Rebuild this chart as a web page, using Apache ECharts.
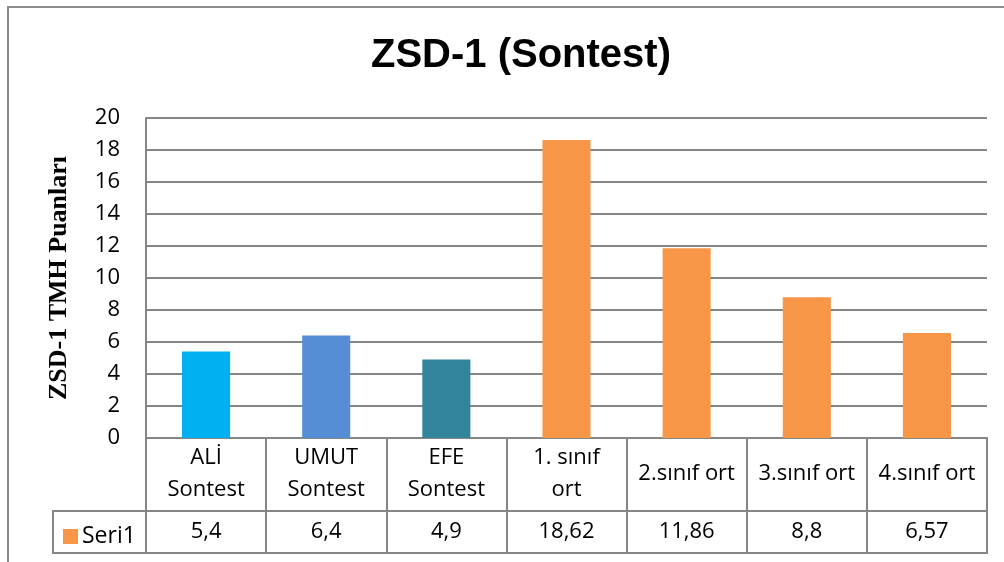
<!DOCTYPE html>
<html>
<head>
<meta charset="utf-8">
<script src="https://cdn.jsdelivr.net/npm/echarts@6/dist/echarts.min.js"></script>
<style>
  html, body { margin: 0; padding: 0; background: #fff; }
  #chart { width: 1004px; height: 562px; }
</style>
</head>
<body>
<div id="chart"></div>
<script>
// veriler
var categories = ["ALİ\nSontest", "UMUT\nSontest", "EFE\nSontest", "1. sınıf\nort", "2.sınıf ort", "3.sınıf ort", "4.sınıf ort"];
var values = [5.4, 6.4, 4.9, 18.62, 11.86, 8.8, 6.57];
var barColors = ["#00B0F0", "#558ED5", "#31849B", "#F79646", "#F79646", "#F79646", "#F79646"];
var yTicks = [0, 2, 4, 6, 8, 10, 12, 14, 16, 18, 20];

var font = "Open Sans";
var lineColor = "#868686";

// tablo satırları için değer etiketleri (virgül ondalık)
var valueLabels = values.map(function (v) { return String(v).replace(".", ","); });

var chart = echarts.init(document.getElementById("chart"));

var option = {
  animation: false,
  backgroundColor: "#fff",
  title: {
    text: "ZSD-1 (Sontest)",
    left: 516,
    top: 31,
    textAlign: "center",
    textStyle: { fontFamily: "Liberation Sans", fontWeight: "bold", fontSize: 40, color: "#000" }
  },
  grid: { left: 146, right: 17, top: 118, bottom: 124 },
  legend: {
    left: 58,
    top: 520,
    icon: "rect",
    itemWidth: 15,
    itemHeight: 15,
    itemGap: 6,
    data: ["Seri1"],
    textStyle: { fontFamily: font, fontSize: 23, color: "#000", padding: [0, 0, 0, -1] }
  },
  xAxis: [
    {
      type: "category",
      data: categories,
      axisLine: { lineStyle: { color: lineColor, width: 2 } },
      axisTick: { show: true, length: 115, lineStyle: { color: lineColor, width: 2 } },
      axisLabel: { margin: 36, verticalAlign: "middle", fontFamily: font, fontSize: 22, color: "#000", lineHeight: 32, interval: 0 }
    },
    {
      type: "category",
      position: "bottom",
      offset: 73,
      data: valueLabels,
      axisLine: { lineStyle: { color: lineColor, width: 2 } },
      axisTick: { show: false },
      axisLabel: { margin: 21, verticalAlign: "middle", fontFamily: font, fontSize: 22, color: "#000", interval: 0 }
    }
  ],
  yAxis: {
    type: "value",
    min: 0,
    max: 20,
    interval: 2,
    name: "ZSD-1 TMH Puanları",
    nameLocation: "middle",
    nameGap: 74,
    nameTextStyle: { fontFamily: "Liberation Serif", fontWeight: "bold", fontSize: 26, color: "#000" },
    axisLine: { show: true, lineStyle: { color: lineColor, width: 2 } },
    axisTick: { show: false },
    splitLine: { lineStyle: { color: lineColor, width: 2 } },
    axisLabel: {
      margin: 26,
      fontFamily: font,
      fontSize: 22,
      color: "#000",
      formatter: function (v) { return yTicks.indexOf(v) >= 0 ? String(v) : ""; }
    }
  },
  series: [
    {
      name: "Seri1",
      type: "bar",
      xAxisIndex: 0,
      barWidth: "40%",
      itemStyle: { color: "#F79646" },
      data: values.map(function (v, i) {
        return { value: v, itemStyle: { color: barColors[i] } };
      })
    }
  ],
  graphic: [
    // dış çerçeve
    { type: "polyline", shape: { points: [[8, 562], [8, 7], [1004, 7]] }, style: { stroke: "#8c8c8c", lineWidth: 2, fill: null } },
    // tablo alt çizgisi ve sol hücre
    { type: "line", shape: { x1: 53, y1: 553, x2: 988, y2: 553 }, style: { stroke: lineColor, lineWidth: 2 } },
    { type: "line", shape: { x1: 53, y1: 511, x2: 146, y2: 511 }, style: { stroke: lineColor, lineWidth: 2 } },
    { type: "line", shape: { x1: 53, y1: 510, x2: 53, y2: 554 }, style: { stroke: lineColor, lineWidth: 2 } }
  ]
};

chart.setOption(option);
</script>
</body>
</html>
